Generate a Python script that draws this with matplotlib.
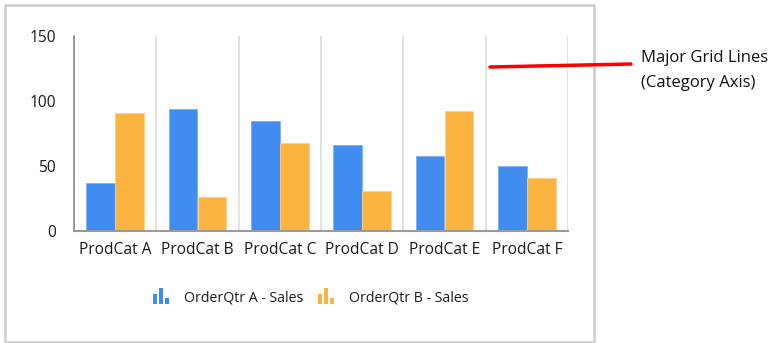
import matplotlib
matplotlib.use("Agg")
import matplotlib.pyplot as plt
from matplotlib.patches import Rectangle
from matplotlib.lines import Line2D
import numpy as np

categories = ["ProdCat A", "ProdCat B", "ProdCat C", "ProdCat D", "ProdCat E", "ProdCat F"]
series_a = [37, 94, 85, 66, 58, 50]
series_b = [91, 26, 68, 31, 92, 41]
series_names = ["OrderQtr A - Sales", "OrderQtr B - Sales"]
yticks = [0, 50, 100, 150]
color_a = "#418CF0"
color_b = "#FCB441"

plt.rcParams['font.family'] = ['Open Sans', 'DejaVu Sans']

W, H = 779, 343
fig = plt.figure(figsize=(W / 100, H / 100), dpi=100)

def fx(px):
    return px / W

def fy(py):
    return 1 - py / H

ax = fig.add_axes([fx(74), fy(231), fx(568) - fx(74), fy(36) - fy(231)])
x = np.arange(len(categories))
bw = 0.35
ax.bar(x - bw / 2, series_a, width=bw, color=color_a, edgecolor="#7FB0F5", linewidth=0.6, zorder=3)
ax.bar(x + bw / 2, series_b, width=bw, color=color_b, edgecolor="#FDD08A", linewidth=0.6, zorder=3)

ax.set_xlim(-0.5, len(categories) - 0.5)
ax.set_ylim(0, 150)
ax.set_yticks(yticks)
ax.set_xticks(x)
ax.set_xticklabels(categories)
for b in np.arange(len(categories) + 1) - 0.5:
    ax.axvline(b, color="#dcdcdc", linewidth=1.2, zorder=1)
ax.tick_params(axis="y", length=0, pad=13, labelsize=11.2, labelcolor="#1a1a1a")
ax.tick_params(axis="x", length=0, pad=8, labelsize=11.2, labelcolor="#1a1a1a")
for s in ["top", "right"]:
    ax.spines[s].set_visible(False)
ax.spines["left"].set_color("#8a8a8a")
ax.spines["left"].set_linewidth(1.2)
ax.spines["bottom"].set_color("#9a9a9a")
ax.spines["bottom"].set_linewidth(1.5)
ax.spines["left"].set_zorder(4)
ax.spines["bottom"].set_zorder(4)

# outer frame
fig.add_artist(Rectangle((fx(5), fy(342)), fx(594) - fx(5), fy(5) - fy(342),
                         transform=fig.transFigure, fill=False, edgecolor="#cccccc", linewidth=1.8))

# legend icons and labels
def icon(x0, color):
    heights = [10, 16, 6]
    for i, h in enumerate(heights):
        fig.add_artist(Rectangle((fx(x0 + i * 6), fy(304)), fx(4), fy(304 - h) - fy(304),
                                 transform=fig.transFigure, color=color, linewidth=0))

icon(153, color_a)
fig.text(fx(184), fy(298), series_names[0], fontsize=10.2, va="center", ha="left", color="#1a1a1a")
icon(318, color_b)
fig.text(fx(349), fy(298), series_names[1], fontsize=10.2, va="center", ha="left", color="#1a1a1a")

# annotation
fig.add_artist(Line2D([fx(490), fx(631)], [fy(67), fy(64)], transform=fig.transFigure,
                      color="#ff0000", linewidth=2.5, solid_capstyle="round"))
fig.text(fx(641), fy(58), "Major Grid Lines", fontsize=12, va="center", ha="left", color="#111111")
fig.text(fx(641), fy(83), "(Category Axis)", fontsize=12, va="center", ha="left", color="#111111")

fig.savefig("out.png", dpi=100)
